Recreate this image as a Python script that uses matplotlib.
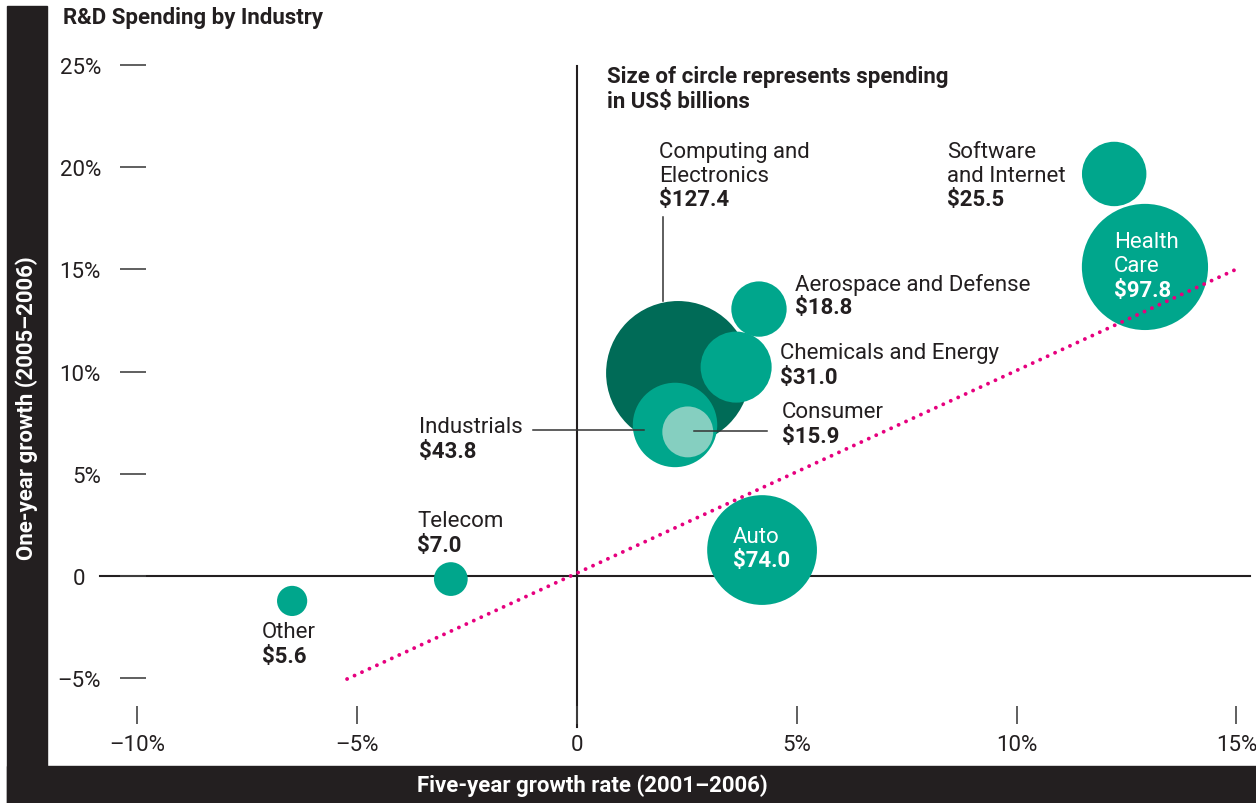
import matplotlib
matplotlib.use('Agg')
import matplotlib.pyplot as plt
from matplotlib.patches import Rectangle
from matplotlib.transforms import ScaledTranslation

plt.rcParams['font.family'] = ['Roboto', 'DejaVu Sans']

INK = '#231F20'
TEAL = '#00A68C'
DARK_TEAL = '#006B57'
LIGHT_TEAL = '#85CFC0'
MAGENTA = '#E6007E'

# bubbles, in draw order (overlaps matter)
industries = ['Computing and\nElectronics', 'Industrials', 'Consumer', 'Chemicals and Energy',
              'Aerospace and Defense', 'Auto', 'Software\nand Internet', 'Health\nCare',
              'Telecom', 'Other']
five_year = [2.30, 2.23, 2.52, 3.62, 4.14, 4.21, 12.22, 12.92, -2.87, -6.48]
one_year = [9.93, 7.39, 7.05, 10.22, 13.06, 1.27, 19.67, 15.12, -0.15, -1.22]
spending = [127.4, 43.8, 15.9, 31.0, 18.8, 74.0, 25.5, 97.8, 7.0, 5.6]
colors = [DARK_TEAL, TEAL, LIGHT_TEAL, TEAL, TEAL, TEAL, TEAL, TEAL, TEAL, TEAL]

# label anchors (data units): left x, top of name, top of value
label_x = [1.865, -3.594, 4.663, 4.618, 4.959, 3.549, 8.417, 12.216, -3.640, -7.166]
name_y = [21.28, 7.83, 8.56, 11.45, 14.83, 2.45, 21.28, 16.88, 3.23, -2.20]
value_y = [18.98, 6.65, 7.39, 10.28, 13.70, 1.32, 18.98, 14.53, 2.06, -3.37]
label_white = [False, False, False, False, False, True, False, True, False, False]

trend_x = [-5.23, 15.01]
trend_y = [-5.04, 15.02]

x_ticks = [-10, -5, 0, 5, 10, 15]
x_labels = ['\u201310%', '\u20135%', '0', '5%', '10%', '15%']
y_ticks = [-5, 0, 5, 10, 15, 20, 25]
y_labels = ['\u20135%', '0', '5%', '10%', '15%', '20%', '25%']

FS = 16

W, H = 1256, 804
fig = plt.figure(figsize=(W / 100, H / 100), dpi=100)

# black frame
fig.patches.append(Rectangle((7 / W, 0), 40 / W, 797 / H, transform=fig.transFigure,
                             color=INK, zorder=0))
fig.patches.append(Rectangle((7 / W, 0), 1249 / W, 37 / H, transform=fig.transFigure,
                             color=INK, zorder=0))

ax = fig.add_axes([47 / W, 37 / H, 1209 / W, 767 / H])
ax.set_xlim(-12.056, 15.446)
ax.set_ylim(-9.296, 28.23)

for side in ['top', 'right', 'left', 'bottom']:
    ax.spines[side].set_visible(False)
ax.spines['left'].set_position(('data', -10.40))
ax.spines['bottom'].set_position(('data', -7.24))

ax.set_xticks(x_ticks, x_labels)
ax.set_yticks(y_ticks, y_labels)
ax.tick_params(axis='y', direction='in', length=18.7, width=1.2, color='#444444',
               pad=13.5, labelsize=FS, labelcolor=INK)
ax.tick_params(axis='x', direction='in', length=13, width=1.2, color='#444444',
               pad=7, labelsize=FS, labelcolor=INK)

# the "0" on the y axis lines up with the digits, not the % signs
for lab in ax.get_yticklabels():
    if lab.get_text() == '0':
        lab.set_transform(lab.get_transform() + ScaledTranslation(-0.16, 0, fig.dpi_scale_trans))

# zero lines
ax.plot([-10.85, 15.31], [0, 0], color=INK, lw=1.5, zorder=1)
ax.plot([0, 0], [24.95, -7.4], color=INK, lw=1.5, zorder=1)

# trend line
ax.plot(trend_x, trend_y, color=MAGENTA, lw=2.8, linestyle=(0, (0.01, 2.1)),
        dash_capstyle='round', zorder=4)

# bubbles: area proportional to spending
sizes = [84.4 * v for v in spending]
for x, y, s, c in zip(five_year, one_year, sizes, colors):
    ax.scatter(x, y, s=s, color=c, edgecolors='none', zorder=3)

# leader lines
ax.plot([1.96, 1.96], [17.56, 13.45], color='#333333', lw=1.1, zorder=5)
ax.plot([-1.0, 1.52], [7.14, 7.14], color='#333333', lw=1.1, zorder=5)
ax.plot([2.66, 4.32], [7.09, 7.09], color='#333333', lw=1.1, zorder=5)

for name, v, lx, ny, vy, white in zip(industries, spending, label_x, name_y, value_y, label_white):
    col = 'white' if white else INK
    ax.text(lx, ny, name, fontsize=FS, color=col, va='top', ha='left',
            linespacing=1.2, zorder=6)
    ax.text(lx, vy, f'${v:.1f}', fontsize=FS, color=col, va='top', ha='left',
            fontweight='bold', zorder=6)

ax.text(0.682, 25.0, 'Size of circle represents spending\nin US$ billions', fontsize=FS,
        fontweight='bold', color=INK, va='top', ha='left', linespacing=1.15)

fig.text(63 / W, 1 - 7 / H, 'R&D Spending by Industry', fontsize=FS, fontweight='bold',
         color=INK, va='top', ha='left')
fig.text(27 / W, (804 - 408) / H, 'One-year growth (2005\u20132006)', fontsize=FS,
         fontweight='bold', color='white', rotation=90, va='center', ha='center')
fig.text(592 / W, (804 - 786) / H, 'Five-year growth rate (2001\u20132006)', fontsize=FS,
         fontweight='bold', color='white', va='center', ha='center')

fig.savefig('out.png', dpi=100)
